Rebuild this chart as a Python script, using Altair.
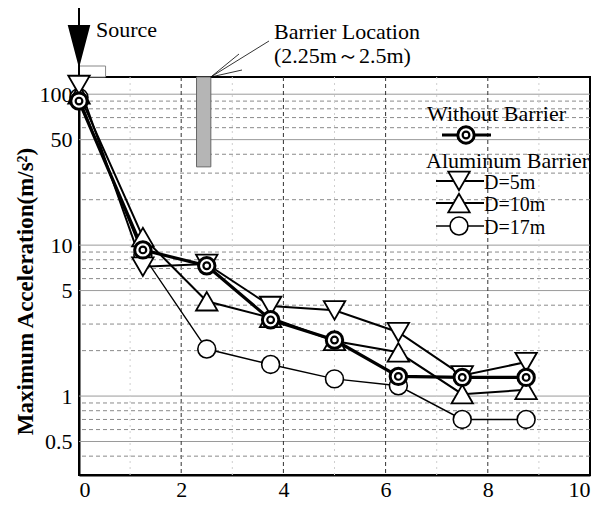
import altair as alt
import pandas as pd

# ---------------- data ----------------
x_pos = [0, 1.25, 2.5, 3.75, 5, 6.25, 7.5, 8.75]
without_barrier = [90, 9.3, 7.3, 3.2, 2.35, 1.35, 1.33, 1.33]
d5 = [115, 7.2, 7.5, 3.95, 3.7, 2.65, 1.37, 1.68]
d10 = [100, 11.3, 4.25, 3.3, 2.32, 1.95, 1.03, 1.1]
d17 = [95, 8.6, 2.05, 1.62, 1.3, 1.17, 0.7, 0.7]

series_names = ["Without Barrier", "D=5m", "D=10m", "D=17m"]
group_titles = ["Without Barrier", "Aluminum Barrier"]

x_ticks = [0, 2, 4, 6, 8, 10]
y_ticks = [0.5, 1, 5, 10, 50, 100]
y_minor = [0.4, 0.6, 0.7, 0.8, 0.9, 2, 3, 4, 6, 7, 8, 9, 20, 30, 40, 60, 70, 80, 90]
x_major_grid = [2, 4, 6, 8]
x_minor_grid = [1, 3, 5, 7, 9]

barrier_x = [2.3, 2.58]
barrier_y = [33, 130]
source_box_x = [0, 0.52]
barrier_text = ["Barrier Location", "(2.25m\uff5e2.5m)"]
source_text = "Source"

FONT = "Liberation Serif"
FS = 22

xs = alt.Scale(domain=[0, 10], nice=False, zero=False)
ys = alt.Scale(type="log", domain=[0.3, 130], nice=False)

AX_X = alt.Axis(values=x_ticks, title=None, grid=False, ticks=False,
                labelPadding=4, labelFontSize=FS, labelFont=FONT,
                labelColor="black", domainColor="black", domainWidth=2)
AX_Y = alt.Axis(values=y_ticks, format="~g", title="Maximum Acceleration(m/s\u00b2)",
                grid=False, ticks=False, labelPadding=7, labelFontSize=FS,
                labelFont=FONT, labelColor="black", titleFont=FONT,
                titleFontSize=23, titleFontWeight="bold", titleColor="black",
                titlePadding=2, titleY=214, domainColor="black", domainWidth=2)

def X(f="x"):
    return alt.X(f"{f}:Q", scale=xs, axis=AX_X)

def Y(f="y"):
    return alt.Y(f"{f}:Q", scale=ys, axis=AX_Y)

def df_series(vals):
    return pd.DataFrame({"x": x_pos, "y": vals})

def one(**kw):
    return pd.DataFrame({k: [v] for k, v in kw.items()})

# ---------------- grid ----------------
grid_ymaj = alt.Chart(pd.DataFrame({"y": y_ticks})).mark_rule(
    color="#9a9a9a", strokeWidth=1).encode(y=Y())
grid_ymin = alt.Chart(pd.DataFrame({"y": y_minor})).mark_rule(
    color="#8a8a8a", strokeWidth=1, strokeDash=[4, 3]).encode(y=Y())
grid_xmaj = alt.Chart(pd.DataFrame({"x": x_major_grid})).mark_rule(
    color="#333333", strokeWidth=1, strokeDash=[4, 3]).encode(x=X())
grid_xmin = alt.Chart(pd.DataFrame({"x": x_minor_grid})).mark_rule(
    color="#cfcfcf", strokeWidth=1, strokeDash=[2, 4]).encode(x=X())

# ---------------- barrier & source annotations ----------------
barrier = alt.Chart(one(x=barrier_x[0], x2=barrier_x[1], y=barrier_y[0], y2=barrier_y[1])).mark_rect(
    fill="#b5b5b5", stroke="#666666", strokeWidth=1
).encode(x=X(), x2="x2:Q", y=Y(), y2="y2:Q")

source_box = alt.Chart(one(x=source_box_x[0], x2=source_box_x[1])).mark_rect(
    fill="white", stroke="#888888", strokeWidth=1
).encode(x=X(), x2="x2:Q", y=alt.value(-11), y2=alt.value(0))

barrier_lines = [
    alt.Chart(one(x=barrier_x[1])).mark_rule(color="black", strokeWidth=0.8).encode(
        x=X(), x2=alt.value(ex), y=alt.value(0), y2=alt.value(ey))
    for ex, ey in [(190, -36), (160, -23), (163, -7)]
]

def label(text, px, py, size=FS, weight="normal"):
    return alt.Chart(one(t=text)).mark_text(
        font=FONT, fontSize=size, fontWeight=weight, align="left", baseline="middle", color="black"
    ).encode(x=alt.value(px), y=alt.value(py), text="t:N")

barrier_labels = [label(barrier_text[0], 195, -45), label(barrier_text[1], 195, -21)]

src_shaft = alt.Chart(one(x=0)).mark_rule(color="black", strokeWidth=2).encode(
    x=X(), y=alt.value(-69), y2=alt.value(-2))
src_head = alt.Chart(one(x=0)).mark_point(
    shape="M-1,-1.9L1,-1.9L0,1.9Z", size=400, filled=True, fill="black", stroke="black", opacity=1
).encode(x=X(), y=alt.value(-32))
src_label = label(source_text, 17, -47)

# ---------------- series ----------------
def line(vals, w):
    return alt.Chart(df_series(vals)).mark_line(color="black", strokeWidth=w).encode(x=X(), y=Y())

def pts(vals, shape, size, sw):
    return alt.Chart(df_series(vals)).mark_point(
        shape=shape, size=size, filled=True, fill="white", stroke="black",
        strokeWidth=sw, opacity=1
    ).encode(x=X(), y=Y())

TRI = 460
styles = {
    "Without Barrier": (3.2, [("circle", 270, 3), ("circle", 45, 2.2)]),
    "D=5m": (2, [("triangle-down", TRI, 1.8)]),
    "D=10m": (2, [("triangle-up", TRI, 1.8)]),
    "D=17m": (1.4, [("circle", 320, 1.6)]),
}
values = {"Without Barrier": without_barrier, "D=5m": d5, "D=10m": d10, "D=17m": d17}
draw_order = ["D=17m", "D=10m", "D=5m", "Without Barrier"]

lines = [line(values[n], styles[n][0]) for n in draw_order]
points = [pts(values[n], s, sz, sw) for n in draw_order for (s, sz, sw) in styles[n][1]]

# ---------------- legend (manual, inside plot) ----------------
leg_layers = [label(group_titles[0], 348, 37), label(group_titles[1], 347, 84)]
leg_pos = {
    "Without Barrier": (363, 412, 387, 58),
    "D=5m": (357, 405, 380, 104),
    "D=10m": (357, 405, 380, 126),
    "D=17m": (357, 405, 380, 149),
}
for n in series_names:
    x1, x2, xc, py = leg_pos[n]
    w, syms = styles[n]
    leg_layers.append(alt.Chart(one(n=n)).mark_rule(color="black", strokeWidth=w).encode(
        x=alt.value(x1), x2=alt.value(x2), y=alt.value(py)))
    for s, sz, sw in syms:
        leg_layers.append(alt.Chart(one(n=n)).mark_point(
            shape=s, size=sz, filled=True, fill="white", stroke="black", strokeWidth=sw, opacity=1
        ).encode(x=alt.value(xc), y=alt.value(py)))
    if n != "Without Barrier":
        leg_layers.append(label(n, 405, py + 2, size=20))

chart = alt.layer(
    grid_ymaj, grid_xmaj, grid_ymin, grid_xmin,
    barrier, source_box, *barrier_lines, *barrier_labels,
    *lines, *points,
    src_shaft, src_head, src_label,
    *leg_layers,
).properties(
    width=511, height=398,
    autosize=alt.AutoSizeParams(type="none"),
    padding={"left": 71, "top": 69, "right": 11, "bottom": 27},
    background="white",
).configure_view(stroke="black", strokeWidth=2)

chart.save("out.html", embed_options={"renderer": "svg", "actions": False})
